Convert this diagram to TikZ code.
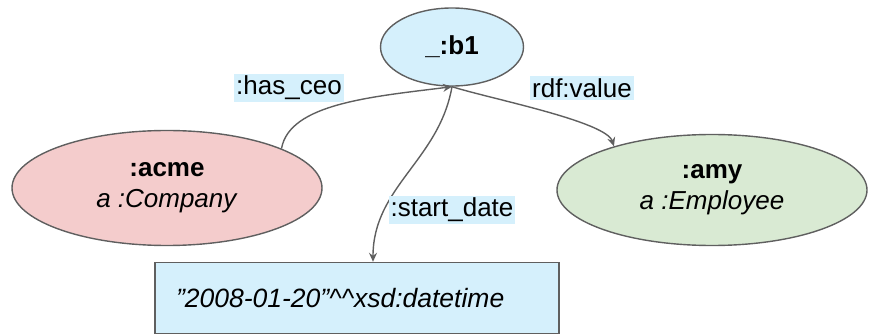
\documentclass[tikz,border=0pt]{standalone}
\usepackage{fontspec}
\setmainfont{Liberation Sans}
\usetikzlibrary{positioning,shapes.geometric,arrows.meta}

\definecolor{nodeblue}{RGB}{213,240,252}
\definecolor{nodered}{RGB}{244,204,204}
\definecolor{nodegreen}{RGB}{217,234,211}
\definecolor{edgegray}{RGB}{95,95,95}

\tikzset{
    resource/.style={ellipse, draw=edgegray, line width=1.4pt, inner sep=0pt, align=center,
        font=\fontsize{26}{31}\selectfont},
    literal/.style={rectangle, draw=edgegray, line width=1.4pt, fill=nodeblue, align=left,
        inner xsep=21pt, inner ysep=0pt, font=\fontsize{26.5}{31}\selectfont\itshape},
    predicate/.style={fill=nodeblue, inner sep=2pt, font=\fontsize{26}{31}\selectfont},
    link/.style={draw=edgegray, line width=1.4pt, -{Stealth[length=9pt,width=8pt,inset=3pt]}}
}

\begin{document}
\begin{tikzpicture}[x=1pt, y=-1pt]
    \useasboundingbox (0,0) rectangle (871,334);

    % Resources
    \node[resource, fill=nodeblue, minimum width=143pt, minimum height=78pt] (b1) at (452,47) {\textbf{\_:b1}};
    \node[resource, fill=nodered, minimum width=310pt, minimum height=115pt] (acme) at (167,188) {\textbf{:acme}\\\textit{a :Company}};
    \node[resource, fill=nodegreen, minimum width=310pt, minimum height=111pt] (amy) at (712,190) {\textbf{:amy}\\\textit{a :Employee}};

    % Literal value
    \node[literal, text width=362pt, minimum height=71pt] (date) at (357,298) {\symbol{34}2008-01-20\symbol{34}\^{}\^{}xsd:datetime};

    % Predicates
    \draw[link] (acme.19) .. controls +(8,-45) and +(-80,10) .. (b1.south);
    \draw[link] (b1.south) .. controls +(38,12) and +(-8,-25) .. (amy.156);
    \draw[link] (b1.south) to[out=-100, in=90] (date.north -| 373,0);

    % Predicate labels
    \node[predicate] (ceolabel) at (289,88) {:has\_ceo};
    \node[predicate] (valuelabel) at (582,88) {rdf:value};
    \node[predicate] (startlabel) at (452,210) {:start\_date};
\end{tikzpicture}
\end{document}
